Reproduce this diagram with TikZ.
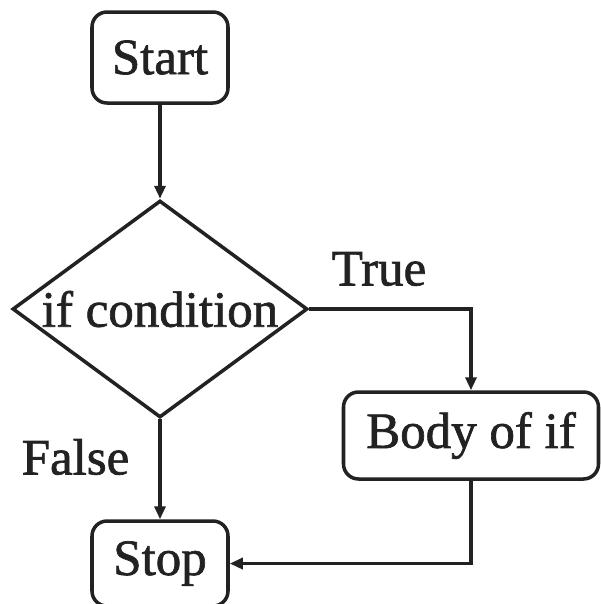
\documentclass[tikz,border=0pt]{standalone}
\usepackage{fontspec}
\setmainfont[FakeBold=1.3]{Liberation Serif}
\usepackage{tikz}
\usetikzlibrary{shapes.geometric, positioning, arrows.meta}
\definecolor{ink}{HTML}{222222}

\begin{document}
\begin{tikzpicture}[-{Triangle[length=0.26cm,width=0.22cm]},auto,
                    line width=2pt,draw=ink,text=ink,
                    font=\fontsize{29}{34}\selectfont,
                    box node/.style={rectangle,rounded corners=0.3cm,draw=ink,inner sep=0pt},
                    decision node/.style={diamond,draw=ink,inner sep=0pt,minimum width=5.9cm,minimum height=4.34cm}]

  \useasboundingbox (0,0) rectangle (12.02,-12.08);

  \node[box node,minimum width=2.72cm,minimum height=1.82cm] (start) at (3.2,-1.15) {Start};
  \node[decision node] (cond) [below=1.88cm of start] {};
  \node (condtext) at (cond) {if condition};
  \node[box node,minimum width=2.72cm,minimum height=1.7cm] (stop) [below=2cm of cond] {Stop};
  \node[box node,minimum width=5.1cm,minimum height=1.74cm] (body) at (9.42,-8.71) {Body of if};

  \node (true) at (7.58,-5.38) {True};
  \node (false) at (1.51,-9.14) {False};

  \path[draw=ink]
    (start) edge (cond)
    (cond) edge (stop)
    ;
  \draw (cond.east) -| (body.north);
  \draw (body.south) |- (stop.east);
\end{tikzpicture}
\end{document}
